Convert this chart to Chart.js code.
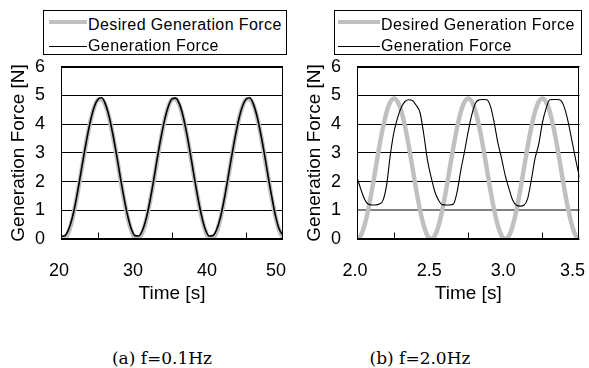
<!DOCTYPE html>
<html>
<head>
<meta charset="utf-8">
<script src="https://cdn.jsdelivr.net/npm/chart.js@4.4.1/dist/chart.umd.min.js"></script>
<style>
  body { margin: 0; background: #fff; }
  #wrap { position: relative; width: 589px; height: 368px; overflow: hidden; background: #fff; }
  canvas { position: absolute; }
  .legend { position: absolute; border: 1px solid #000; box-sizing: border-box; background: #fff; z-index: 2;
            font-family: "Liberation Sans", Arial, sans-serif; font-size: 16px; letter-spacing: 0.4px; color: #000; }
  .legend .row { position: absolute; left: 0; right: 0; height: 20px; }
  .legend .swatch { position: absolute; top: 50%; }
  .legend .txt { position: absolute; top: 0; line-height: 20px; white-space: nowrap; }
  .cap { position: absolute; font-family: "DejaVu Serif", serif; font-size: 17px; color: #000;
         transform: translateX(-50%); white-space: nowrap; }
</style>
</head>
<body>
<div id="wrap">
  <canvas id="chartA" width="319" height="265" style="left:0;top:40px;"></canvas>
  <canvas id="chartB" width="322" height="265" style="left:296px;top:40px;"></canvas>
  <div class="legend" id="legA" style="left:43px;top:10px;width:244px;height:45px;"></div>
  <div class="legend" id="legB" style="left:334px;top:10px;width:248px;height:45px;"></div>
  <div class="cap" style="left:162px;top:348px;">(a) f=0.1Hz</div>
  <div class="cap" style="left:420px;top:348px;">(b) f=2.0Hz</div>
</div>
<script>
// series names
const SERIES = ['Desired Generation Force', 'Generation Force'];
const DESIRED_COLOR = '#c0c0c0';
const ACTUAL_COLOR = '#000000';

// (a) f=0.1Hz
const timeA = [20,20.5,21,21.5,22,22.5,23,23.5,24,24.5,25,25.5,26,26.5,27,27.5,28,28.5,29,29.5,
  30,30.5,31,31.5,32,32.5,33,33.5,34,34.5,35,35.5,36,36.5,37,37.5,38,38.5,39,39.5,
  40,40.5,41,41.5,42,42.5,43,43.5,44,44.5,45,45.5,46,46.5,47,47.5,48,48.5,49,49.5,50];
const desiredA = [0.04,0.02,0.23,0.66,1.27,1.99,2.76,3.49,4.13,4.60,4.86,4.88,4.67,4.24,3.63,2.91,2.14,1.41,0.77,0.30,
  0.04,0.02,0.23,0.66,1.27,1.99,2.76,3.49,4.13,4.60,4.86,4.88,4.67,4.24,3.63,2.91,2.14,1.41,0.77,0.30,
  0.04,0.02,0.23,0.66,1.27,1.99,2.76,3.49,4.13,4.60,4.86,4.88,4.67,4.24,3.63,2.91,2.14,1.41,0.77,0.30,0.04];
const actualA = [0.10,0.12,0.32,0.72,1.31,2.03,2.79,3.51,4.14,4.61,4.87,4.92,4.70,4.27,3.66,2.95,2.18,1.45,0.82,0.35,
  0.12,0.11,0.30,0.70,1.30,2.02,2.80,3.52,4.15,4.62,4.88,4.91,4.71,4.28,3.67,2.94,2.17,1.44,0.81,0.34,
  0.11,0.12,0.31,0.71,1.31,2.03,2.79,3.51,4.14,4.61,4.87,4.92,4.70,4.27,3.66,2.95,2.18,1.45,0.80,0.34,0.13];
const xTicksA = { min: 20, max: 50, step: 10, marks: [25, 35, 45], digits: 0 };

// (b) f=2.0Hz
const timeB = [2.000,2.025,2.050,2.075,2.100,2.125,2.150,2.175,2.200,2.225,2.250,2.275,2.300,2.325,2.350,2.375,2.400,2.425,2.450,2.475,
  2.500,2.525,2.550,2.575,2.600,2.625,2.650,2.675,2.700,2.725,2.750,2.775,2.800,2.825,2.850,2.875,2.900,2.925,2.950,2.975,
  3.000,3.025,3.050,3.075,3.100,3.125,3.150,3.175,3.200,3.225,3.250,3.275,3.300,3.325,3.350,3.375,3.400,3.425,3.450,3.475,3.500];
const desiredB = [0,0.12,0.47,1.01,1.69,2.45,3.21,3.89,4.43,4.78,4.90,4.78,4.43,3.89,3.21,2.45,1.69,1.01,0.47,0.12,
  0,0.12,0.47,1.01,1.69,2.45,3.21,3.89,4.43,4.78,4.90,4.78,4.43,3.89,3.21,2.45,1.69,1.01,0.47,0.12,
  0,0.12,0.47,1.01,1.69,2.45,3.21,3.89,4.43,4.78,4.90,4.78,4.43,3.89,3.21,2.45,1.69,1.01,0.47,0.12,0];
const actualB = [2.15,1.75,1.40,1.22,1.19,1.19,1.22,1.35,1.90,2.95,3.75,4.25,4.60,4.80,4.85,4.82,4.65,4.40,3.65,2.75,
  2.15,1.65,1.35,1.20,1.19,1.19,1.22,1.65,2.40,3.05,3.75,4.35,4.75,4.85,4.86,4.85,4.62,4.05,3.35,2.80,
  2.20,1.75,1.35,1.18,1.15,1.18,1.40,2.05,2.80,3.30,4.05,4.55,4.85,4.86,4.86,4.82,4.55,4.05,3.40,2.75,2.15];
const xTicksB = { min: 2.0, max: 3.5, step: 0.5, marks: [2.25, 2.75, 3.25], digits: 1 };

const yTicks = { min: 0, max: 6, step: 1 };

const TICK_FONT = { family: '"Liberation Sans", Arial, sans-serif', size: 18 };
const TITLE_FONT = { family: '"Liberation Sans", Arial, sans-serif', size: 19 };

// plot frame + short inward tick marks on the time axis
const framePlugin = {
  id: 'frame',
  afterDatasetsDraw(chart, args, opts) {
    const { ctx, chartArea: a, scales: { x } } = chart;
    const l = Math.round(a.left) + 0.5, t = Math.round(a.top) + 0.5;
    const r = Math.round(a.right) - 0.5, b = Math.round(a.bottom) - 0.5;
    ctx.save();
    ctx.strokeStyle = '#000';
    ctx.lineWidth = 1;
    ctx.strokeRect(l, t, r - l, b - t);
    ctx.beginPath();
    (opts.marks || []).forEach(v => {
      const px = Math.round(x.getPixelForValue(v)) + 0.5;
      ctx.moveTo(px, b);
      ctx.lineTo(px, b - 6);
    });
    ctx.stroke();
    ctx.restore();
  }
};

function buildLegend(id, swLeft, swWidth, txtLeft) {
  const box = document.getElementById(id);
  const rows = [
    { name: SERIES[0], color: DESIRED_COLOR, h: 4, top: 4, shift: -3 },
    { name: SERIES[1], color: ACTUAL_COLOR, h: 1, top: 25, shift: 0 }
  ];
  rows.forEach(r => {
    const row = document.createElement('div');
    row.className = 'row';
    row.style.top = r.top + 'px';
    row.innerHTML = `<div class="swatch" style="left:${swLeft}px;width:${swWidth}px;height:${r.h}px;margin-top:${-r.h/2 + r.shift}px;background:${r.color}"></div>
      <div class="txt" style="left:${txtLeft}px">${r.name}</div>`;
    box.appendChild(row);
  });
}

function makeChart(id, times, desired, actual, xt, actualWidth, grayLine) {
  const ctx = document.getElementById(id).getContext('2d');
  return new Chart(ctx, {
    type: 'line',
    data: {
      labels: times,
      datasets: [
        { label: SERIES[1], data: actual, borderColor: ACTUAL_COLOR, borderWidth: actualWidth,
          pointRadius: 0, tension: 0.4, cubicInterpolationMode: 'monotone', order: 1 },
        { label: SERIES[0], data: desired, borderColor: DESIRED_COLOR, borderWidth: 4.5,
          pointRadius: 0, tension: 0.4, cubicInterpolationMode: 'monotone', order: 2 }
      ]
    },
    options: {
      responsive: false, animation: false,
      layout: { padding: { left: 7.6, right: 0, top: 0, bottom: 0 } },
      plugins: { legend: { display: false }, tooltip: { enabled: false }, frame: { marks: xt.marks } },
      scales: {
        x: {
          type: 'linear', min: xt.min, max: xt.max,
          grid: { display: false, tickLength: 0 }, border: { display: false },
          ticks: { stepSize: xt.step, color: '#000', font: TICK_FONT, padding: 21, maxRotation: 0,
                   labelOffset: -2, autoSkip: false,
                   // last label sits a little inside the frame, as in the original
                   callback: v => Number(v).toFixed(xt.digits) + (v === xt.max ? '  ' : '') },
          title: { display: true, text: 'Time [s]', color: '#000', font: TITLE_FONT,
                   padding: { top: -20.5, bottom: 0 } }
        },
        y: {
          min: yTicks.min, max: yTicks.max,
          grid: { drawTicks: false,
                  color: c => (c.tick && c.tick.value === grayLine) ? '#808080' : '#000',
                  lineWidth: c => (c.tick && c.tick.value === grayLine) ? 2 : 1 },
          border: { display: false },
          ticks: { stepSize: yTicks.step, color: '#000', font: TICK_FONT, padding: 16, autoSkip: false },
          title: { display: true, text: 'Generation Force [N]', color: '#000', font: TITLE_FONT,
                   padding: { top: 0, bottom: -11.4 } }
        }
      }
    },
    plugins: [framePlugin]
  });
}

buildLegend('legA', 5, 38, 44);
buildLegend('legB', 3, 42, 46);
makeChart('chartA', timeA, desiredA, actualA, xTicksA, 1.6, null);
makeChart('chartB', timeB, desiredB, actualB, xTicksB, 1.1, 1);
</script>
</body>
</html>
